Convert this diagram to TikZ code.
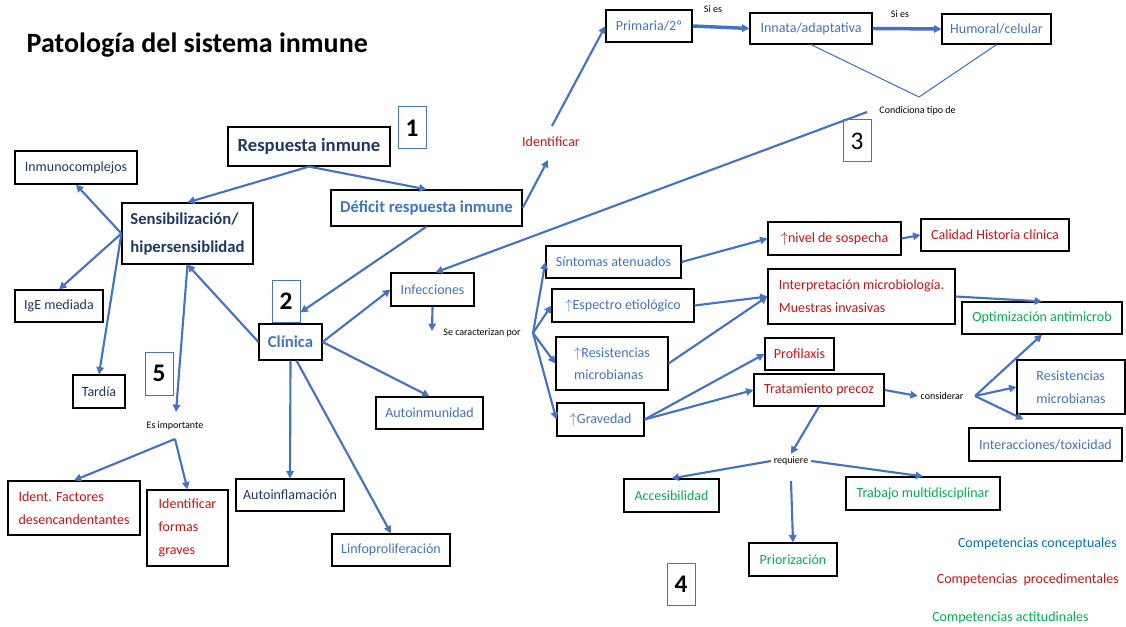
\documentclass[tikz,border=0pt]{standalone}
\usepackage{fontspec}
\setmainfont{Carlito}
\usetikzlibrary{arrows.meta,calc}
\definecolor{navy}{RGB}{32,56,100}
\definecolor{mblue}{RGB}{68,114,196}
\definecolor{mred}{RGB}{210,16,16}
\definecolor{mgreen}{RGB}{0,176,80}
\definecolor{lblue}{RGB}{0,112,192}
\begin{document}
\begin{tikzpicture}[x=0.75pt,y=-0.75pt,
  box/.style={draw=black, line width=0.9pt, fill=white, inner sep=0pt, align=center, font=\fontsize{10.5}{17}\selectfont},
  wh/.style 2 args={minimum width=#1*0.75pt, minimum height=#2*0.75pt},
  numbox/.style={draw=mblue, line width=0.75pt, inner sep=0pt, font=\bfseries\fontsize{19}{19}\selectfont},
  lbl/.style={inner sep=2pt, font=\fontsize{7.5}{9}\selectfont, text=black},
  arr/.style={draw=mblue, line width=1.6pt, -{Triangle[length=5.5pt,width=5.5pt]}},
  thinline/.style={draw=mblue, line width=0.8pt}]
\useasboundingbox (0,0) rectangle (1126,627);

\node[anchor=west, font=\bfseries\fontsize{21}{24}\selectfont] (title) at (22,45) {Patología del sistema inmune};

% left part
\node[box, wh={162}{39}, text=navy, font=\bfseries\fontsize{14}{16}\selectfont] (resp) at (309,146.5) {Respuesta inmune};
\node[numbox, wh={28}{42}] (n1) at (412,128) {1};
\node[box, wh={122}{33}, text=navy] (inmuno) at (76,167.5) {Inmunocomplejos};
\node[box, wh={131}{61}, text=navy, align=left, font=\bfseries\fontsize{12.5}{21}\selectfont] (sens) at (187.5,233.5) {Sensibilización/\\hipersensiblidad};
\node[box, wh={88}{32}, text=navy] (ige) at (59,306) {IgE mediada};
\node[box, wh={52}{33}, text=navy] (tardia) at (99,391.5) {Tardía};
\node[numbox, wh={28}{43}] (n5) at (159,373.5) {5};
\node[lbl] (esimp) at (175,426) {Es importante};
\coordinate (esimpT) at (176,412);
\coordinate (esimpB) at (175,439);
\node[box, wh={132}{54}, text=mred, align=left] (identfac) at (74,508) {Ident. Factores\\desencandentantes};
\node[box, wh={81}{76}, text=mred, align=left] (identform) at (187.5,528) {Identificar\\formas\\graves};

% deficit chain
\node[box, wh={191}{36}, text=mblue, font=\bfseries\fontsize{12.5}{15}\selectfont] (deficit) at (426.5,208) {Déficit respuesta inmune};
\node[text=mred, inner sep=1pt, font=\fontsize{10.5}{12}\selectfont] (identif) at (551,142) {Identificar};
\coordinate (identB) at (548,160);
\coordinate (identT) at (552,126);
\node[box, wh={86}{32}, text=mblue] (primaria) at (649,26) {Primaria/2º};
\node[lbl] (sies1) at (713,9) {Si es};
\node[box, wh={122}{31}, text=mblue] (innata) at (811,28.5) {Innata/adaptativa};
\node[lbl] (sies2) at (900,14) {Si es};
\node[box, wh={109}{30}, text=mblue] (humoral) at (996.5,29) {Humoral/celular};
\coordinate (apex) at (919,97);
\node[lbl] (cond) at (917.5,111) {Condiciona tipo de};
\coordinate (condL) at (867,112);
\node[numbox, wh={28}{42}, font=\fontsize{19}{19}\selectfont] (n3) at (857,141) {3};

% clinica
\node[box, wh={63}{36}, text=mblue, font=\bfseries\fontsize{12.5}{15}\selectfont] (clinica) at (290.5,342) {Clínica};
\node[numbox, wh={28}{42}] (n2) at (286,301) {2};
\node[box, wh={83}{33}, text=mblue] (infec) at (432.5,289.5) {Infecciones};
\node[box, wh={107}{32}, text=mblue] (autoinm) at (429.5,413) {Autoinmunidad};
\node[box, wh={108}{32}, text=navy] (autoinf) at (290,495) {Autoinflamación};
\node[box, wh={118}{32}, text=mblue] (linfo) at (391,550) {Linfoproliferación};
\node[lbl] (secar) at (482,333) {Se caracterizan por};
\coordinate (secarL) at (432,331);
\coordinate (secR) at (533,333);

% infections detail
\node[box, wh={135}{32}, text=mblue] (sint) at (613.5,262) {Síntomas atenuados};
\node[box, wh={142}{33}, text=mblue] (espec) at (623,305.5) {$\uparrow$Espectro etiológico};
\node[box, wh={112}{53}, text=mblue, align=left] (resis) at (612,363.5) {$\uparrow$Resistencias\\microbianas};
\node[box, wh={87}{33}, text=mblue] (grav) at (600.5,419.5) {$\uparrow$Gravedad};
\node[box, wh={133}{33}, text=mred] (nivel) at (834.5,238.5) {$\uparrow$nivel de sospecha};
\node[box, wh={148}{32}, text=mred] (calidad) at (995,235) {Calidad Historia clínica};
\node[box, wh={187}{55}, text=mred, align=left] (interp) at (861.5,296.5) {Interpretación microbiología.\\Muestras invasivas};
\node[box, wh={160}{32}, text=mgreen] (optim) at (1042,318) {Optimización antimicrob};
\node[box, wh={69}{32}, text=mred] (profil) at (799.5,354) {Profilaxis};
\node[box, wh={130}{32}, text=mred] (trat) at (819,390) {Tratamiento precoz};
\node[lbl] (consid) at (942,396) {considerar};
\coordinate (conR) at (975,396);
\node[box, wh={108}{54}, text=mblue, align=left] (resis2) at (1071,387) {Resistencias\\microbianas};
\node[box, wh={153}{33}, text=mblue] (inter) at (1045.5,444.5) {Interacciones/toxicidad};
\node[lbl] (req) at (791,461) {requiere};
\coordinate (reqB) at (791,481);
\node[box, wh={95}{33}, text=mgreen] (acces) at (671.5,495.5) {Accesibilidad};
\node[box, wh={154}{33}, text=mgreen] (trabajo) at (923,493.5) {Trabajo multidisciplinar};
\node[box, wh={88}{33}, text=mgreen] (prior) at (793,559.5) {Priorización};
\node[numbox, wh={28}{42}] (n4) at (681,584) {4};

% legend
\node[anchor=east, inner sep=0pt, text=lblue, font=\fontsize{10.5}{12}\selectfont] (leg1) at (1117,544) {Competencias conceptuales};
\node[anchor=east, inner sep=0pt, text=mred, font=\fontsize{10.5}{12}\selectfont] (leg2) at (1119,580) {Competencias\ \ procedimentales};
\node[anchor=west, inner sep=0pt, text=mgreen, font=\fontsize{10.5}{12}\selectfont] (leg3) at (932,618) {Competencias actitudinales};

% connectors
\draw[arr] (resp.south) -- (sens.north);
\draw[arr] (resp.south) -- (deficit.north);
\draw[arr] (deficit.south) -- ([shift={(10,-11)}]clinica.north);
\draw[arr] (clinica.west) -- (sens.south);
\draw[arr] (sens.west) -- (inmuno.south);
\draw[arr] (sens.west) -- (ige.north);
\draw[arr] (sens.west) -- (tardia.north);
\draw[arr] (sens.south) -- (esimpT);
\draw[arr] (esimpB) -- (identfac.north);
\draw[arr] (esimpB) -- (identform.north);
\draw[arr] (deficit.east) -- (identB);
\draw[arr] (identT) -- (primaria.west);
\draw[arr, line width=2.6pt] (primaria.east) -- (innata.west);
\draw[arr, line width=2.6pt] (innata.east) -- (humoral.west);
\draw[thinline] (innata.south) -- (apex) -- (humoral.south);
\draw[arr] (condL) -- ([shift={(3,0)}]infec.north);
\draw[arr] (clinica.east) -- (infec.west);
\draw[arr] (clinica.east) -- (autoinm.north);
\draw[arr] (clinica.south) -- (autoinf.north);
\draw[arr] ([shift={(6,0)}]clinica.south) -- (linfo.north);
\draw[arr] (infec.south) -- (secarL);
\draw[arr] (secR) -- (sint.west);
\draw[arr] (secR) -- (espec.west);
\draw[arr] (secR) -- (resis.west);
\draw[arr] (secR) -- (grav.west);
\draw[arr] (sint.east) -- (nivel.west);
\draw[arr] (nivel.east) -- (calidad.west);
\draw[arr] (espec.east) -- (interp.west);
\draw[arr] (resis.east) -- (interp.west);
\draw[arr] (interp.east) -- (optim.north);
\draw[arr] (grav.east) -- (profil.west);
\draw[arr] (grav.east) -- (trat.west);
\draw[arr] (trat.east) -- (consid.west);
\draw[arr] (conR) -- (optim.south);
\draw[arr] (conR) -- (resis2.west);
\draw[arr] (conR) -- ([shift={(-22,-8)}]inter.north);
\draw[arr] (trat.south) -- (req.north);
\draw[arr] (req.west) -- (acces.north);
\draw[arr] (req.east) -- (trabajo.north);
\draw[arr] (reqB) -- (prior.north);
\end{tikzpicture}
\end{document}
